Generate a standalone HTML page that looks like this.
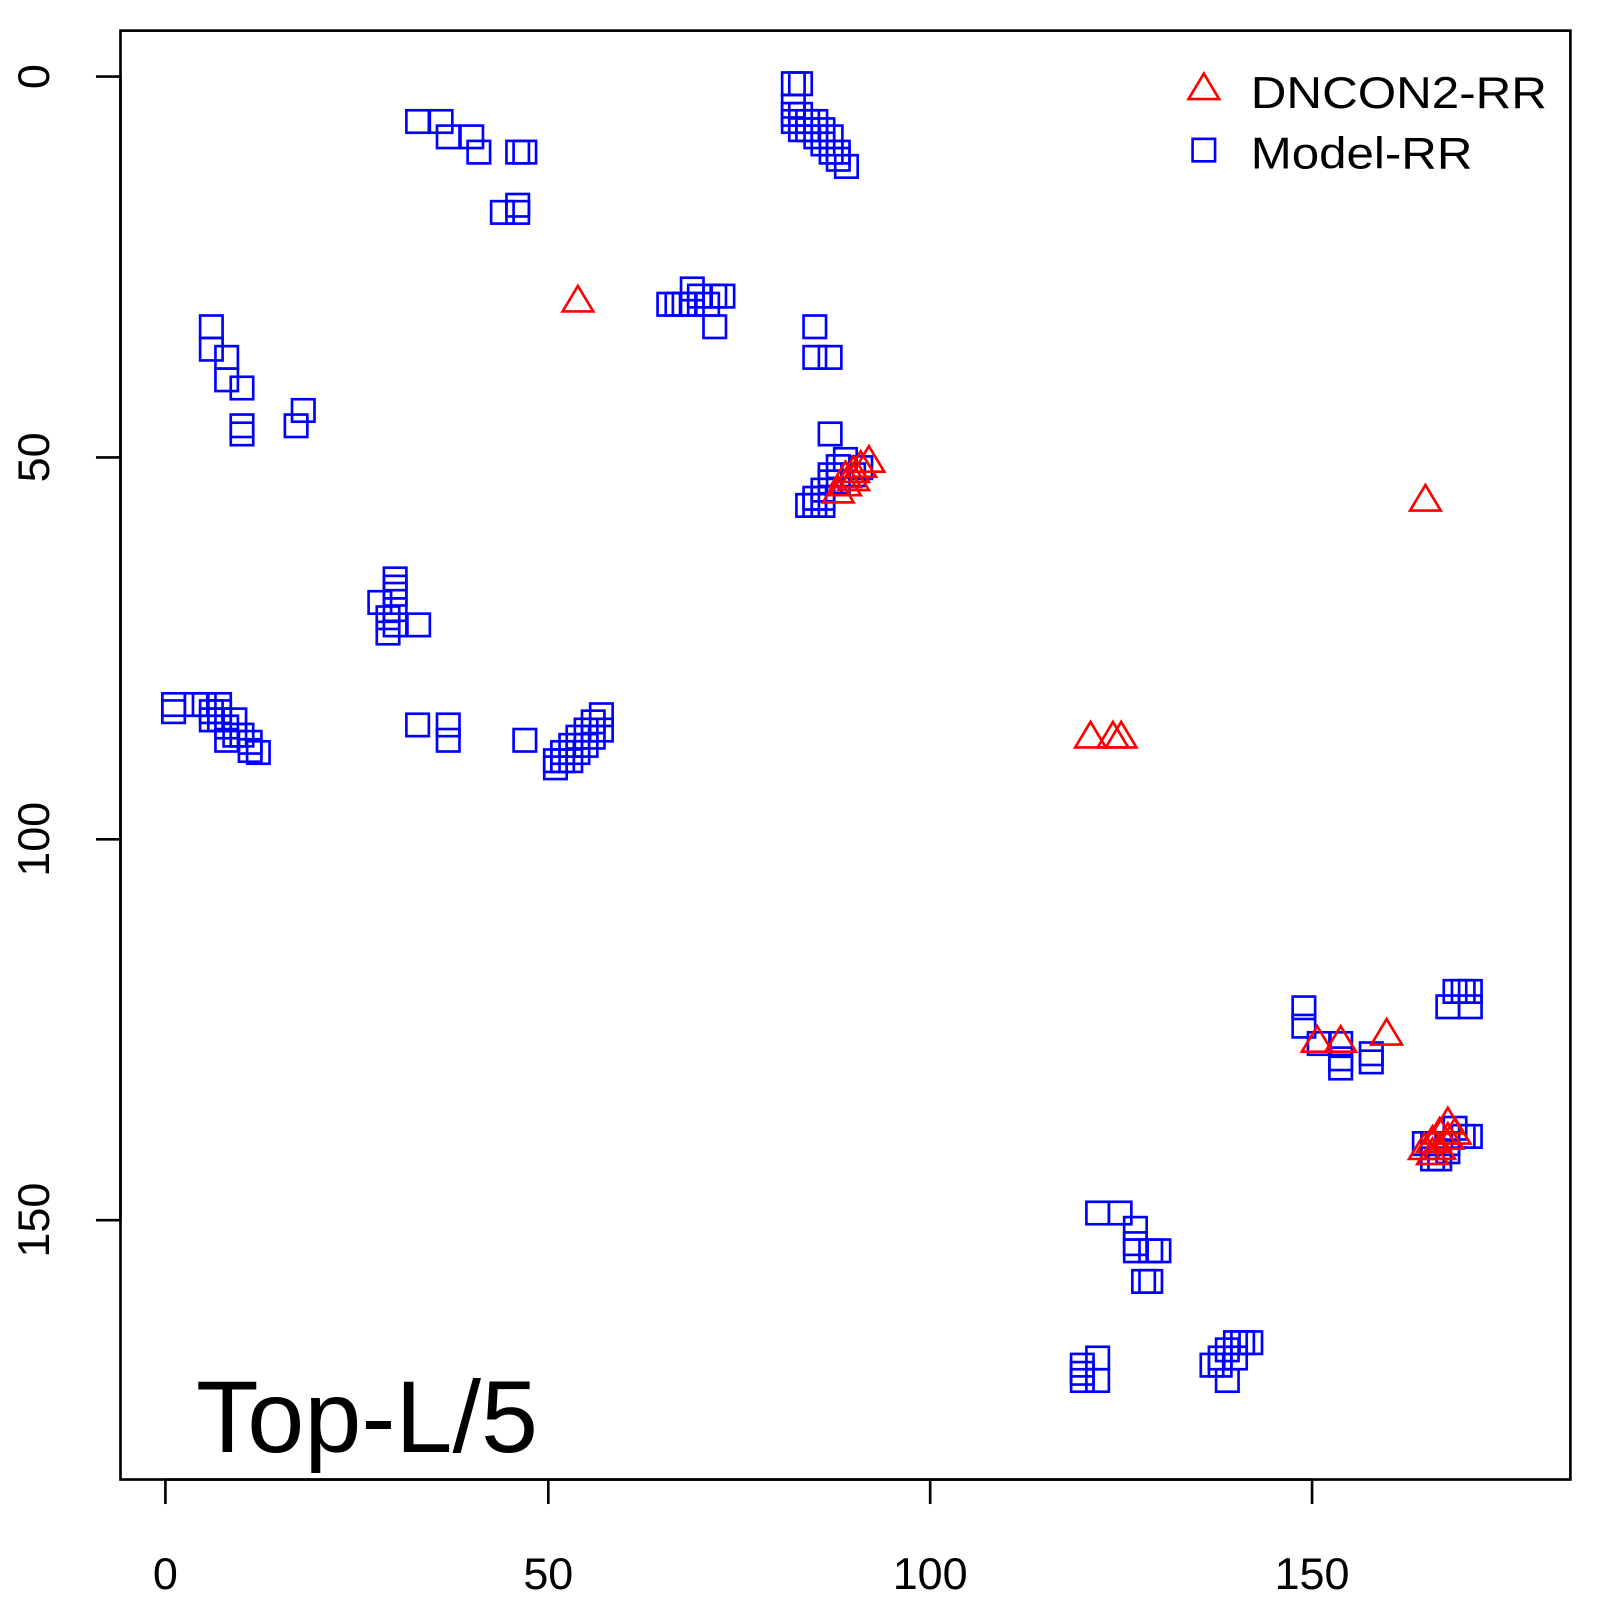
<!DOCTYPE html>
<html><head><meta charset="utf-8"><style>
html,body{margin:0;padding:0;background:#fff;}
svg{display:block;}
text{font-family:"Liberation Sans",Arial,sans-serif;fill:#000;}
</style></head><body>
<svg id="s" width="1600" height="1600" viewBox="0 0 1567 1567" xmlns="http://www.w3.org/2000/svg">
<rect x="0" y="0" width="1567" height="1567" fill="#fff"/>
<rect x="118" y="30" width="1420" height="1419" fill="none" stroke="#000" stroke-width="2.6"/>
<g stroke="#000" stroke-width="2.6">
<line x1="162" y1="1449" x2="1285" y2="1449"/>
<line x1="162" y1="1449" x2="162" y2="1473"/>
<line x1="537" y1="1449" x2="537" y2="1473"/>
<line x1="911" y1="1449" x2="911" y2="1473"/>
<line x1="1285" y1="1449" x2="1285" y2="1473"/>
<line x1="118" y1="75" x2="118" y2="1195"/>
<line x1="118" y1="75" x2="94" y2="75"/>
<line x1="118" y1="448" x2="94" y2="448"/>
<line x1="118" y1="822" x2="94" y2="822"/>
<line x1="118" y1="1195" x2="94" y2="1195"/>
</g>
<g font-size="44" text-anchor="middle">
<text x="162" y="1556">0</text>
<text x="537" y="1556">50</text>
<text x="911" y="1556">100</text>
<text x="1285" y="1556">150</text>
<text transform="translate(48,75) rotate(-90)">0</text>
<text transform="translate(48,448) rotate(-90)">50</text>
<text transform="translate(48,822) rotate(-90)">100</text>
<text transform="translate(48,1195) rotate(-90)">150</text>
</g>
<text x="192" y="1422" font-size="100" textLength="335" lengthAdjust="spacingAndGlyphs">Top-L/5</text>
<g id="sq" fill="none" stroke="#0000ff" stroke-width="2.6"></g>
<g id="tr" fill="none" stroke="#ff0000" stroke-width="2.6"></g>
<polygon points="1179,72 1164,97 1194,97" fill="none" stroke="#ff0000" stroke-width="2.6"/>
<rect x="1168" y="136" width="22" height="22" fill="none" stroke="#0000ff" stroke-width="2.6"/>
<text x="1225" y="106" font-size="44" textLength="290" lengthAdjust="spacingAndGlyphs">DNCON2-RR</text>
<text x="1225" y="165" font-size="44" textLength="217" lengthAdjust="spacingAndGlyphs">Model-RR</text>
</svg>
<script>
var S=[[777,82],[784,82],[777,104],[777,112],[777,119],[784,112],[791,127],[799,119],[799,134],[806,141],[814,134],[814,149],[821,156],[829,163],[821,149],[806,127],[791,119],[784,127],
[409,119],[432,119],[439,134],[462,134],[469,149],[507,149],[514,149],[492,208],[507,201],[507,208],
[655,298],[663,298],[670,298],[678,283],[678,298],[685,290],[693,298],[700,290],[708,290],[700,320],
[798,320],[798,350],[813,350],[813,425],
[207,320],[207,342],[222,350],[222,372],[237,380],[237,417],[237,425],[290,417],[297,402],
[387,567],[387,575],[387,582],[372,590],[387,597],[380,605],[380,620],[410,612],[387,612],
[170,690],[170,697],[192,690],[200,690],[215,690],[207,705],[215,705],[222,712],[230,705],[230,720],[237,720],[245,727],[253,737],[245,735],[222,725],[207,697],[215,697],
[409,710],[439,710],[439,725],[514,725],
[544,752],[544,745],[551,745],[551,737],[559,730],[566,722],[574,715],[581,707],[589,700],[589,715],[574,730],[559,745],[566,737],[581,722],
[798,495],[798,488],[806,480],[813,472],[813,465],[821,457],[828,450],[836,465],[843,458],[791,495],[806,495],[806,488],[821,472],
[1277,987],[1277,1005],[1292,1022],[1313,1022],[1313,1037],[1313,1046],[1343,1032],[1343,1040],[1418,986],[1425,971],[1433,971],[1440,971],[1440,986],
[1403,1120],[1395,1120],[1410,1135],[1418,1120],[1425,1105],[1433,1113],[1440,1113],[1403,1135],[1418,1128],
[1075,1188],[1097,1188],[1112,1203],[1112,1218],[1112,1225],[1127,1225],[1135,1225],[1120,1255],[1127,1255],
[1060,1337],[1060,1345],[1060,1352],[1075,1330],[1075,1352],[1187,1337],[1195,1330],[1202,1322],[1210,1315],[1217,1315],[1225,1315],[1202,1352],[1210,1330],[1195,1337]];
var T=[[566,295],[821,482],[828,467],[836,462],[843,457],[851,452],[836,470],[828,475],[1068,722],[1090,722],[1098,722],[1396,490],[1290,1020],[1313,1020],[1358,1013],[1395,1125],[1403,1118],[1410,1110],[1418,1100],[1410,1125],[1418,1115],[1425,1110],[1403,1130]];
var ns="http://www.w3.org/2000/svg",g=document.getElementById("sq"),h=document.getElementById("tr");
S.forEach(function(p){var r=document.createElementNS(ns,"rect");r.setAttribute("x",p[0]-11);r.setAttribute("y",p[1]-11);r.setAttribute("width",22);r.setAttribute("height",22);g.appendChild(r);});
T.forEach(function(p){var r=document.createElementNS(ns,"polygon");var x=p[0],y=p[1];r.setAttribute("points",x+","+(y-15)+" "+(x-15)+","+(y+10)+" "+(x+15)+","+(y+10));h.appendChild(r);});
</script>
</body></html>
